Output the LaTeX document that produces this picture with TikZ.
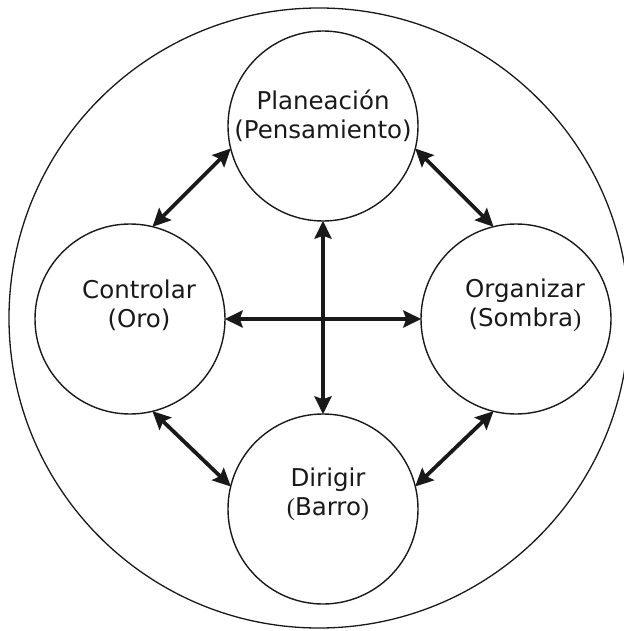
\documentclass[tikz,border=0pt]{standalone}
\usepackage{fontspec}
\setmainfont{DejaVu Sans}
\newfontfamily\parfont{Liberation Serif}
\usetikzlibrary{arrows.meta}
\tikzset{
  stage/.style={circle, draw=black!90, line width=1.4pt, minimum size=190pt, inner sep=0pt},
  outerring/.style={circle, draw=black!90, line width=1.3pt, minimum size=620pt, inner sep=0pt},
  lbl/.style={align=center, inner sep=0pt, font=\fontsize{24.5}{28.5}\selectfont, text=black!90},
  arr/.style={line width=3.8pt, draw=black!90, {Stealth[length=18pt,width=17pt,inset=3pt]}-{Stealth[length=18pt,width=17pt,inset=3pt]}, shorten <=-1pt, shorten >=-1pt}
}
\begin{document}
\begin{tikzpicture}[x=1pt,y=-1pt]
\useasboundingbox (0,0) rectangle (623,631);
\node[outerring] (ring) at (319,318) {};
\node[stage] (P) at (323,126) {};
\node[stage] (C) at (130,319) {};
\node[stage] (O) at (516,319) {};
\node[stage] (D) at (323,509) {};
\node[lbl] (Pt) at (323,116) {Planeación\\(Pensamiento)};
\node[lbl] (Ct) at (139,305.5) {Controlar\\(Oro)};
\node[lbl] (Ot) at (525,305.5) {Organizar\\(Sombra{\parfont)}};
\node[lbl] (Dt) at (328,494.5) {Dirigir\\{\parfont(}Barro{\parfont)}};
\draw[arr] (P.south) -- (D.north);
\draw[arr] (C.east) -- (O.west);
\draw[arr] (P.194) -- (C.76);
\draw[arr] (P.-14) -- (O.104);
\draw[arr] (C.-76) -- (D.166);
\draw[arr] (O.-104) -- (D.14);
\end{tikzpicture}
\end{document}
